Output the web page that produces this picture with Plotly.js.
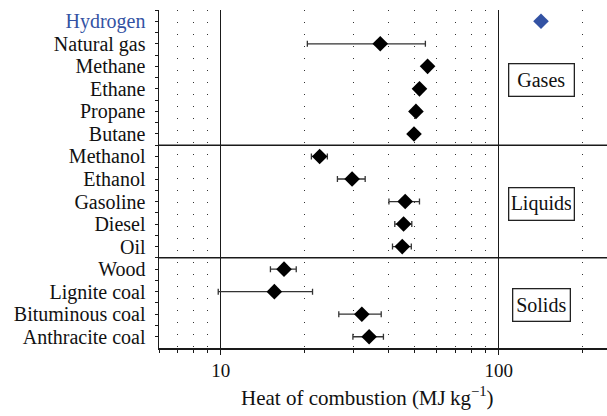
<!DOCTYPE html>
<html>
<head>
<meta charset="utf-8">
<script src="https://cdn.plot.ly/plotly-3.0.1.min.js"></script>
<style>html,body{margin:0;padding:0;background:#fff}</style>
</head>
<body>
<div id="chart" style="width:607px;height:416px"></div>
<script>
// Fuels, top to bottom, with heat of combustion (MJ/kg) and spread
const fuels = ['Hydrogen', 'Natural gas', 'Methane', 'Ethane', 'Propane', 'Butane',
  'Methanol', 'Ethanol', 'Gasoline', 'Diesel', 'Oil',
  'Wood', 'Lignite coal', 'Bituminous coal', 'Anthracite coal'];
const heatValues = [142, 37.5, 55.5, 51.9, 50.4, 49.6, 22.7, 29.7, 46.1, 45.5, 45.0, 16.9, 15.6, 32.2, 34.2];
const heatSpread = [null, 17, null, null, null, null, 1.5, 3.4, 5.8, 3.2, 3.5, 1.8, 5.8, 5.6, 4.3];
const groupNames = ['Gases', 'Liquids', 'Solids'];
const groupSizes = [6, 5, 4];
const decadeTicks = [10, 100];
const decadeLabels = ['10', '100'];
const minorTicks = [6, 7, 8, 9, 20, 30, 40, 50, 60, 70, 80, 90, 200];

const highlight = 'Hydrogen';
const blue = '#3352a3';
const ink = '#1a1a1a';
const serif = '"Liberation Serif", "Times New Roman", serif';

const rows = fuels.map((_, i) => i);

const trace = {
  type: 'scatter',
  mode: 'markers',
  x: heatValues,
  y: rows,
  marker: {
    symbol: 'diamond',
    size: 12,
    color: fuels.map(f => f === highlight ? blue : '#000'),
    line: {width: 0}
  },
  error_x: {
    type: 'data',
    array: heatSpread,
    visible: true,
    color: '#333',
    thickness: 1.3,
    width: 3
  },
  hoverinfo: 'x+text',
  text: fuels,
  showlegend: false
};

// Group boundaries and label rows
const boundaries = [];
const mids = [];
let start = 0;
groupSizes.forEach(n => {
  mids.push(start + (n - 1) / 2);
  start += n;
  boundaries.push(start - 0.5);
});

const shapes = boundaries.slice(0, -1).map(b => ({
  type: 'line', xref: 'paper', x0: 0, x1: 1, yref: 'y', y0: b, y1: b,
  line: {color: ink, width: 1.5}
}));

const boxWidths = [60, 60, 52];
const annotations = groupNames.map((g, i) => ({
  text: g, xref: 'paper', x: 0.8527, xanchor: 'center',
  yref: 'y', y: mids[i] + 0.1, yanchor: 'middle',
  showarrow: false, font: {family: serif, size: 20, color: '#111'},
  bordercolor: '#222', borderwidth: 1.3, borderpad: 2,
  width: boxWidths[i], height: 27, bgcolor: '#fff'
}));

annotations.push({
  text: 'Heat of combustion (MJ\u2009kg<sup>\u22121</sup>)',
  xref: 'paper', x: 0.4665, xanchor: 'center',
  yref: 'paper', y: 0, yanchor: 'middle', yshift: -48,
  showarrow: false, font: {family: serif, size: 21, color: '#111'}
});

const layout = {
  width: 607, height: 416,
  margin: {l: 159, r: 0, t: 10, b: 68, pad: 0},
  paper_bgcolor: '#fff', plot_bgcolor: '#fff',
  font: {family: serif, size: 19, color: '#111'},
  showlegend: false,
  xaxis: {
    type: 'log',
    range: [Math.log10(6), Math.log10(245.3)],
    tickmode: 'array', tickvals: decadeTicks, ticktext: decadeLabels,
    ticks: 'outside', ticklen: 5, tickwidth: 1.5, tickcolor: ink,
    tickfont: {family: serif, size: 19, color: '#111'},
    showgrid: true, gridcolor: ink, gridwidth: 1.5,
    zeroline: false,
    showline: true, linecolor: ink, linewidth: 1.5,
    minor: {
      tickmode: 'array', tickvals: minorTicks,
      ticks: 'outside', ticklen: 3, tickwidth: 1, tickcolor: ink,
      showgrid: true, gridcolor: '#333', gridwidth: 1, griddash: '1px,11px'
    }
  },
  xaxis2: {
    type: 'log', overlaying: 'x', matches: 'x', side: 'top', anchor: 'y',
    range: [Math.log10(6), Math.log10(245.3)],
    tickmode: 'array', tickvals: minorTicks,
    ticks: 'inside', ticklen: 3, tickwidth: 1, tickcolor: ink,
    showticklabels: false, showgrid: false, zeroline: false,
    showline: true, linecolor: ink, linewidth: 1.5
  },
  yaxis: {
    range: [14.5, -0.5],
    tickmode: 'array', tickvals: rows,
    ticktext: fuels.map(f => f === highlight ? '<span style="color:' + blue + '">' + f + '</span>' : f),
    ticks: 'outside', ticklen: 3, tickwidth: 1, tickcolor: ink,
    tickfont: {family: serif, size: 20, color: '#111'},
    ticklabelstandoff: 5,
    showgrid: false, zeroline: false,
    showline: true, linecolor: ink, linewidth: 1.5,
    minor: {
      tickmode: 'array', tickvals: rows.concat([rows.length - 1]).map(r => r - 0.5),
      ticks: 'outside', ticklen: 3, tickwidth: 1, tickcolor: ink, showgrid: false
    }
  },
  shapes: shapes,
  annotations: annotations
};

Plotly.newPlot('chart', [trace], layout, {displayModeBar: false, staticPlot: true});
</script>
</body>
</html>
